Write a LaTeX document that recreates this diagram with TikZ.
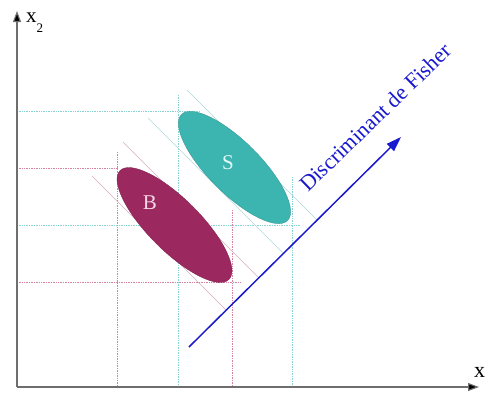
\documentclass[tikz,border=0pt]{standalone}
\usepackage{fontspec}
\setmainfont{Liberation Serif}
\usetikzlibrary{arrows.meta,shapes.geometric}
\definecolor{bfill}{RGB}{155,40,95}
\definecolor{sfill}{RGB}{60,180,176}
\definecolor{gridred}{RGB}{215,130,160}
\definecolor{gridcyan}{RGB}{135,210,210}
\definecolor{diagred}{RGB}{215,175,190}
\definecolor{diagcyan}{RGB}{175,215,215}
\definecolor{fisherblue}{RGB}{25,25,205}
\definecolor{axisgray}{RGB}{110,110,110}
\tikzset{
  axisline/.style={draw=axisgray,line width=1.1pt,-{Triangle[length=11pt,width=8pt,fill=black]}},
  gridr/.style={draw=gridred,densely dotted,line width=0.7pt},
  gridc/.style={draw=gridcyan,densely dotted,line width=0.7pt},
  diagr/.style={draw=diagred,line width=0.6pt},
  diagc/.style={draw=diagcyan,line width=0.6pt},
  blob/.style={ellipse,inner sep=0pt,rotate=-45,draw=#1!80!black,fill=#1,line width=0.3pt},
  blobtext/.style={font=\fontsize{21}{24}\selectfont,inner sep=0pt},
  fisher/.style={draw=fisherblue,line width=1.5pt,-{Triangle[length=15pt,width=10pt]}}
}
\begin{document}
\begin{tikzpicture}[x=1pt,y=-1pt]
\useasboundingbox (0,0) rectangle (488,394);
% axes
\coordinate (O) at (17,387);
\coordinate (Ytop) at (17,11);
\coordinate (Xend) at (479,387);
% grid lines
\coordinate (h1a) at (17,111); \coordinate (h1b) at (200,111);
\coordinate (h2a) at (17,168); \coordinate (h2b) at (118,168);
\coordinate (h3a) at (17,225); \coordinate (h3b) at (300,225);
\coordinate (h4a) at (17,282); \coordinate (h4b) at (240,282);
\coordinate (v1a) at (117,152); \coordinate (v1b) at (117,386);
\coordinate (v2a) at (178,95);  \coordinate (v2b) at (178,386);
\coordinate (v3a) at (232,210); \coordinate (v3b) at (232,386);
\coordinate (v4a) at (292,177); \coordinate (v4b) at (292,386);
\draw[gridc] (h1a) -- (h1b);
\draw[gridr] (h2a) -- (h2b);
\draw[gridc] (h3a) -- (h3b);
\draw[gridr] (h4a) -- (h4b);
\draw[gridr] (v1a) -- (v1b);
\draw[gridc] (v2a) -- (v2b);
\draw[gridr] (v3a) -- (v3b);
\draw[gridc] (v4a) -- (v4b);
% diagonal projection lines
\coordinate (b1a) at (92,176);  \coordinate (b1b) at (226.5,310.5);
\coordinate (b2a) at (123,142); \coordinate (b2b) at (259,278);
\coordinate (s1a) at (148,118); \coordinate (s1b) at (283.5,253.5);
\coordinate (s2a) at (187,90);  \coordinate (s2b) at (317,220);
\draw[diagr] (b1a) -- (b1b);
\draw[diagr] (b2a) -- (b2b);
\draw[diagc] (s1a) -- (s1b);
\draw[diagc] (s2a) -- (s2b);
% ellipses
\node[blob=bfill,minimum width=154pt,minimum height=52pt] (B) at (174.5,225) {};
\node[blob=sfill,minimum width=150pt,minimum height=52pt] (S) at (234.5,167.5) {};
\node[blobtext,text={rgb,255:red,245;green,215;blue,230}] (Blab) at (150,203) {B};
\node[blobtext,text={rgb,255:red,225;green,248;blue,248}] (Slab) at (228,163) {S};
% axes
\draw[axisline] (O) -- (Ytop);
\draw[axisline] (O) -- (Xend);
\node[anchor=base west,inner sep=0pt,font=\fontsize{21}{22}\selectfont] (ylab) at (26,22) {x\raisebox{-10pt}{\fontsize{13}{14}\selectfont 2}};
\node[anchor=base west,inner sep=0pt,font=\fontsize{22}{24}\selectfont] (xlab) at (474,377) {x};
% Fisher discriminant
\coordinate (F0) at (189,347);
\coordinate (F1) at (401,137);
\draw[fisher] (F0) -- (F1);
\node[anchor=base west,inner sep=0pt,rotate=44,text=fisherblue,font=\fontsize{22}{24}\selectfont] (ftext) at (308,193) {Discriminant de Fisher};
\end{tikzpicture}
\end{document}
